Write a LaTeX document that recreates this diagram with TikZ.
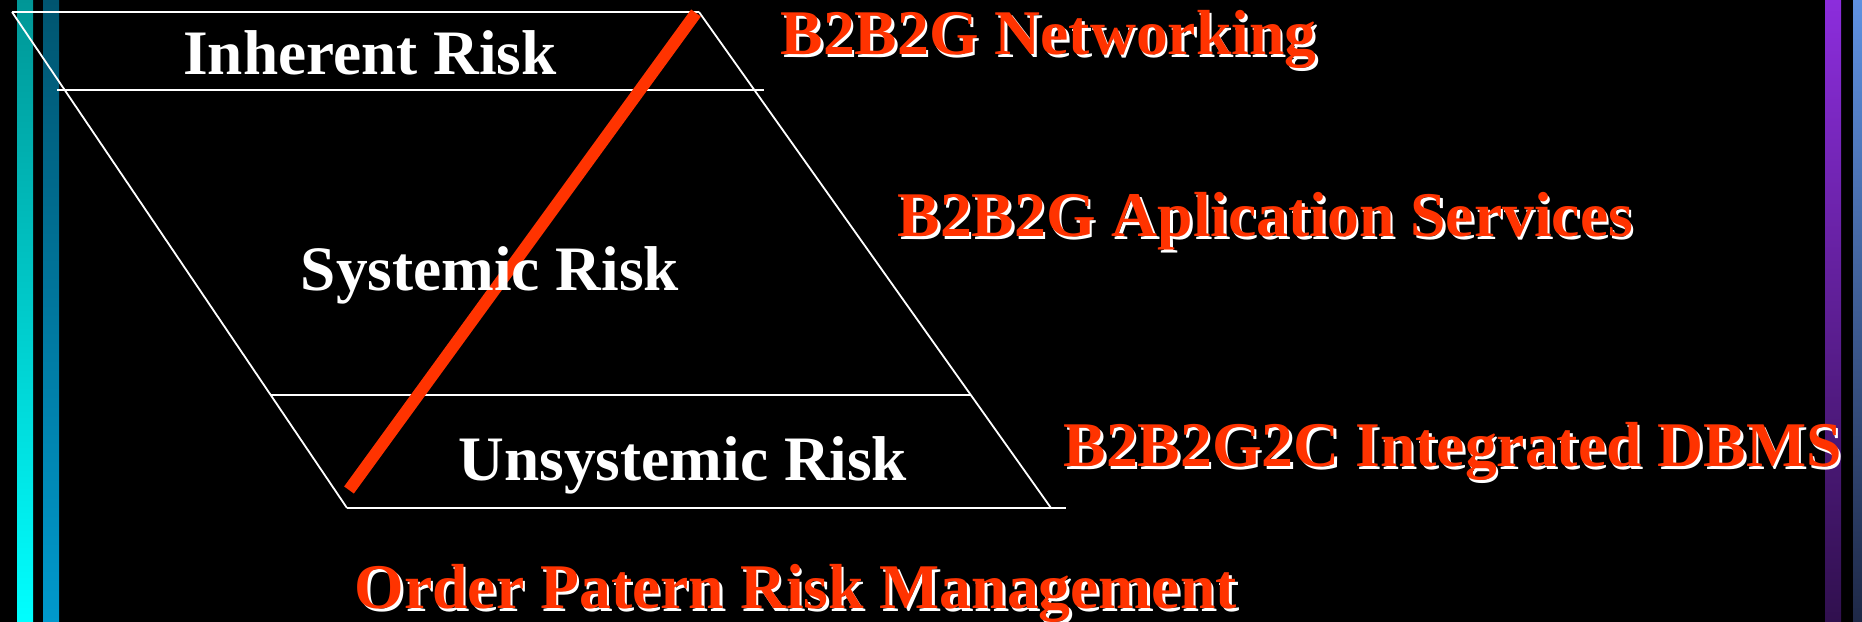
\documentclass[tikz,border=0pt]{standalone}
\usepackage{fontspec}
\setmainfont{Liberation Serif}
\usetikzlibrary{positioning}
\definecolor{rskred}{RGB}{255,51,0}
\definecolor{barcyanA}{RGB}{0,150,150}
\definecolor{barcyanB}{RGB}{0,255,255}
\definecolor{barblueA}{RGB}{0,85,112}
\definecolor{barblueB}{RGB}{0,153,204}
\definecolor{barpurA}{RGB}{140,45,220}
\definecolor{barpurB}{RGB}{48,16,78}
\definecolor{barslA}{RGB}{95,145,225}
\definecolor{barslB}{RGB}{30,40,70}
\tikzset{
  lyr/.style = {draw=white, line width=0.018cm},% bord de couche
  rsk_w/.style = {anchor=base, inner sep=0pt, white,
    font=\fontsize{18}{20}\selectfont\bfseries},% risque, blanc
  rsk_r/.style = {anchor=base west, inner sep=0pt, rskred,
    font=\fontsize{18.1}{20}\selectfont\bfseries},% service, rouge
  rsk_s/.style = {rsk_r, white}% ombre
}

\begin{document}
\begin{tikzpicture}[x=0.01cm, y=-0.01cm]
\fill[black] (0,0) rectangle (1862,622);
\useasboundingbox (0,0) rectangle (1862,622);
% barres
\shade[top color=barcyanA, bottom color=barcyanB] (17,0) rectangle (33,622);
\shade[top color=barblueA, bottom color=barblueB] (43,0) rectangle (59,622);
\shade[top color=barpurA, bottom color=barpurB] (1825,0) rectangle (1841,622);
\shade[top color=barslA, bottom color=barslB] (1853,0) rectangle (1862,622);
% couches
\coordinate (tl) at (12,12);
\coordinate (tr) at (699,12);
\coordinate (bl) at (347,508);
\coordinate (br) at (1051,508);
\coordinate (al) at (57,90);
\coordinate (ar) at (764,90);
\coordinate (cl) at (271,395);
\coordinate (cr) at (971,395);
\coordinate (dr) at (1066,508);
\draw[lyr] (tl) -- (tr);
\draw[lyr] (al) -- (ar);
\draw[lyr] (cl) -- (cr);
\draw[lyr] (bl) -- (dr);
\draw[lyr] (tl) -- (bl);
\draw[lyr] (tr) -- (br);
% trait rouge
\coordinate (rb) at (349,490);
\coordinate (rt) at (696,13);
\draw[rskred, line width=0.12cm] (rb) -- (rt);
% risques
\node[rsk_w] (inh) at (370,75) {Inherent Risk};
\node[rsk_w] (sys) at (490,291) {Systemic Risk};
\node[rsk_w] (uns) at (683,481) {Unsystemic Risk};
% services
\coordinate (net) at (780,55);
\coordinate (app) at (897,237);
\coordinate (dbm) at (1063,467);
\coordinate (ord) at (354,609);
\node[rsk_s] (netS) at ([shift={(2.5,2.5)}]net) {B2B2G Networking};
\node[rsk_r] (netT) at (net) {B2B2G Networking};
\node[rsk_s] (appS) at ([shift={(2.5,2.5)}]app) {B2B2G Aplication Services};
\node[rsk_r] (appT) at (app) {B2B2G Aplication Services};
\node[rsk_s] (dbmS) at ([shift={(2.5,2.5)}]dbm) {B2B2G2C Integrated DBMS};
\node[rsk_r] (dbmT) at (dbm) {B2B2G2C Integrated DBMS};
\node[rsk_s] (ordS) at ([shift={(2.5,2.5)}]ord) {Order Patern Risk Management};
\node[rsk_r] (ordT) at (ord) {Order Patern Risk Management};
\end{tikzpicture}
\end{document}
